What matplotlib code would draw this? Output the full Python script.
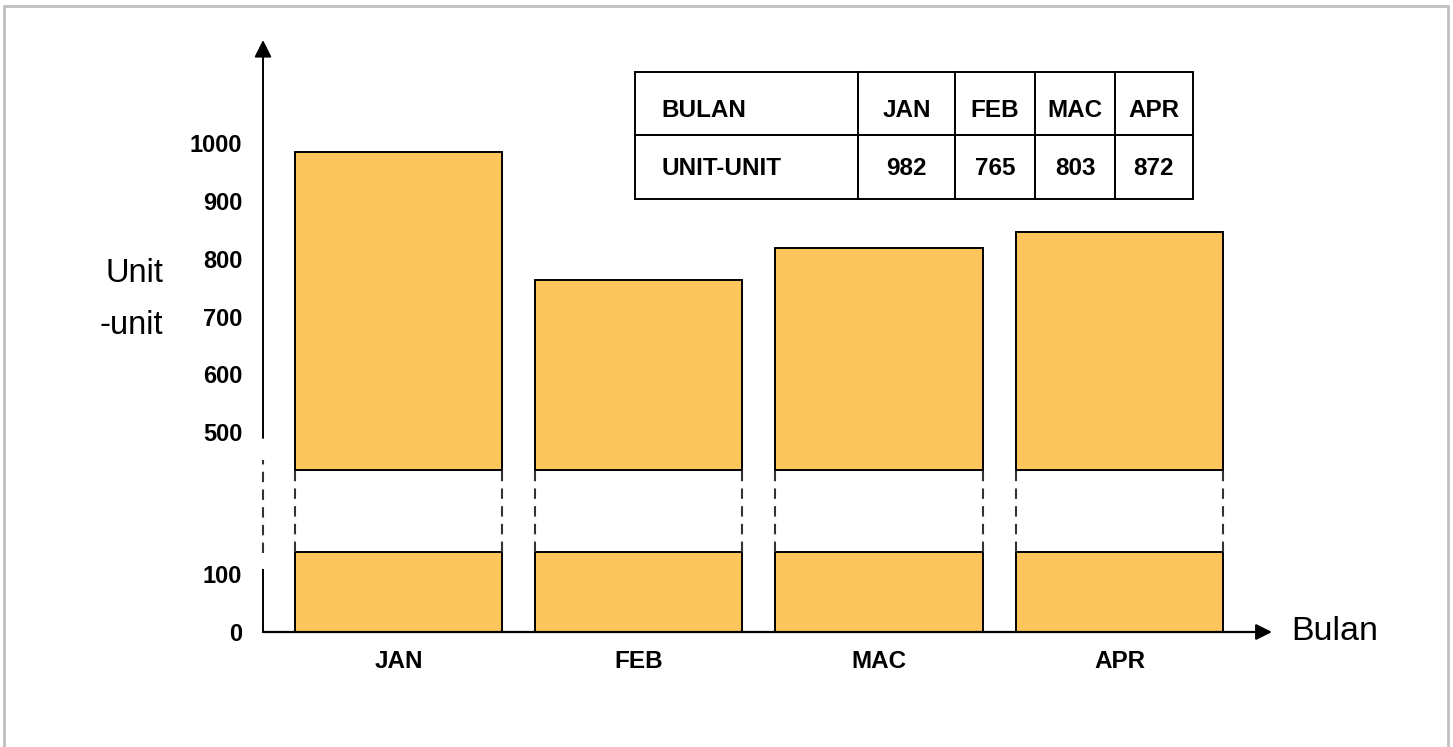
import numpy as np
import matplotlib
matplotlib.use("Agg")
import matplotlib.pyplot as plt
from matplotlib.patches import Rectangle
from matplotlib.transforms import Affine2D

plt.rcParams['font.family'] = ['Liberation Sans', 'DejaVu Sans']

# data
months = ["JAN", "FEB", "MAC", "APR"]
bar_units = np.array([986, 764, 819, 847])      # heights as drawn
table_units = [982, 765, 803, 872]               # values printed in the table
upper_ticks = [500, 600, 700, 800, 900, 1000]
lower_ticks = [0, 100]

W, H = 1453, 747
fig = plt.figure(figsize=(W / 100, H / 100), dpi=100)

def fbox(x0, y0, x1, y1):
    # pixel box (top-left origin) -> figure rect
    return [x0 / W, 1 - y1 / H, (x1 - x0) / W, (y1 - y0) / H]

px_per_unit = 0.577
xl = (-0.564, 3.635)
lo_top = 80 / px_per_unit            # break level, lower part
up_bot = 500 - 38 / px_per_unit      # break level, upper part
up_top = 500 + 392 / px_per_unit

ax_up = fig.add_axes(fbox(263, 40, 1272, 470))
ax_lo = fig.add_axes(fbox(263, 552, 1272, 632))

x = np.arange(len(months))
bw = 0.8625
bar_col = '#FCC65C'

ax_up.bar(x, bar_units - up_bot, bottom=up_bot, width=bw, color=bar_col,
          edgecolor='black', linewidth=1.4, clip_on=False)
ax_lo.bar(x, np.minimum(bar_units, lo_top), width=bw, color=bar_col,
          edgecolor='black', linewidth=1.4, clip_on=False)

for a in (ax_up, ax_lo):
    a.set_xlim(*xl)
    for s in a.spines.values():
        s.set_visible(False)
    a.tick_params(length=0, labelsize=17, pad=15)
    a.patch.set_alpha(0)
ax_up.set_ylim(up_bot, up_top)
ax_lo.set_ylim(0, lo_top)

ax_up.set_xticks([])
ax_up.set_yticks(upper_ticks)
ax_up.set_yticklabels([str(t) for t in upper_ticks], fontweight='bold')
ax_lo.set_yticks(lower_ticks)
ax_lo.set_yticklabels([str(t) for t in lower_ticks], fontweight='bold')
ax_lo.set_xticks(x)
ax_lo.set_xticklabels(months, fontweight='bold', fontsize=17.5)
ax_lo.tick_params(axis='x', pad=13)

# dashed bar edges across the break
gap_top = (632 - 470) / px_per_unit
ax_lo.vlines(np.concatenate([x - bw / 2, x + bw / 2]), lo_top, gap_top,
             colors='#333333', linestyles=(0, (5, 3.5)), linewidth=1.5,
             clip_on=False)

# y axis: solid top with arrow, dashed middle, solid bottom
ax_up.annotate('', xy=(xl[0], up_top), xytext=(xl[0], 500 - 6 / px_per_unit),
               arrowprops=dict(arrowstyle='-|>', color='black', lw=1.4,
                               mutation_scale=26, shrinkA=0, shrinkB=0),
               annotation_clip=False)
ax_lo.vlines(xl[0], (632 - 553) / px_per_unit, (632 - 460) / px_per_unit,
             colors='#333333', linestyles=(0, (5, 3.5)), linewidth=1.5,
             clip_on=False)
ax_lo.plot([xl[0], xl[0]], [0, (632 - 570) / px_per_unit], color='black',
           lw=1.4, clip_on=False)

# x axis with arrow
ax_lo.annotate('', xy=(xl[1], 0), xytext=(xl[0], 0),
               arrowprops=dict(arrowstyle='-|>', color='black', lw=1.6,
                               mutation_scale=24, shrinkA=0, shrinkB=0),
               annotation_clip=False)

fig.text(163 / W, 1 - 273 / H, "Unit", ha='right', va='center', fontsize=23.5)
fig.text(163 / W, 1 - 325 / H, "-unit", ha='right', va='center', fontsize=23.5)
fig.text(1291 / W, 1 - 632 / H, "Bulan", ha='left', va='center', fontsize=24.5)

# data table
ax_tab = fig.add_axes(fbox(635, 72, 1193, 199))
ax_tab.axis('off')
cells = [["BULAN"] + months, ["UNIT-UNIT"] + [str(v) for v in table_units]]
tab = ax_tab.table(cellText=cells, colWidths=[223, 97, 80, 80, 78],
                   bbox=[0, 0, 1, 1], cellLoc='center')
tab.auto_set_font_size(False)
for (r, c), cell in tab.get_celld().items():
    cell.set_linewidth(1.4)
    t = cell.get_text()
    t.set_fontsize(17.5)
    t.set_fontweight('bold')
    if r == 0:
        # header text sits a little low in its row
        t.set_transform(Affine2D().translate(0, -7))
    else:
        t.set_transform(Affine2D().translate(0, -1))
    if c == 0:
        t.set_ha('left')
        cell.PAD = 0.12

# light grey frame around the picture (no bottom edge)
fig.patches.append(Rectangle((4 / W, -0.02), (1448 - 4) / W, 1.02 - 6 / H,
                             transform=fig.transFigure, fill=False,
                             edgecolor='#c0c0c0', lw=2))

fig.savefig("out.png", dpi=100)
